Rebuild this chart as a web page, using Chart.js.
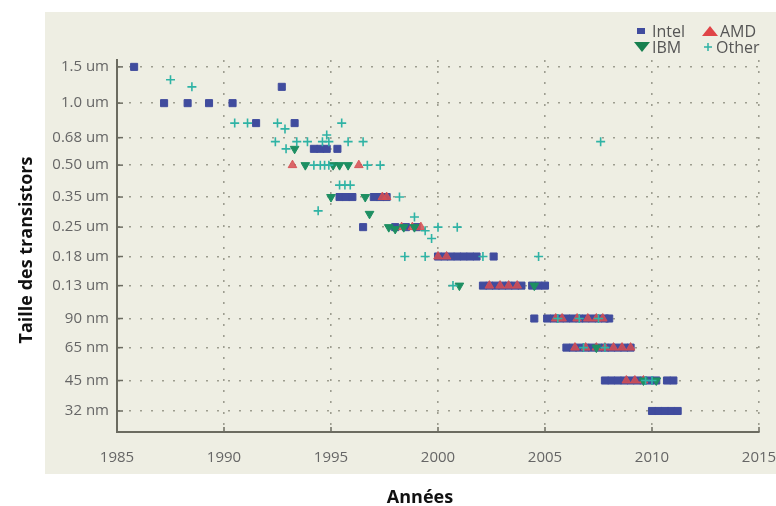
<!DOCTYPE html>
<html>
<head>
<meta charset="utf-8">
<script src="https://cdn.jsdelivr.net/npm/chart.js@4"></script>
<style>
  html, body { margin: 0; padding: 0; background: #ffffff; }
  canvas { display: block; }
</style>
</head>
<body>
<canvas id="myChart" width="776" height="506"></canvas>
<script>
// tick labels
const xTickValues = [1985, 1990, 1995, 2000, 2005, 2010, 2015];
const xTickLabels = ["1985", "1990", "1995", "2000", "2005", "2010", "2015"];
const yTickValues = [1500, 1000, 680, 500, 350, 250, 180, 130, 90, 65, 45, 32];
const yTickLabels = ["1.5 um", "1.0 um", "0.68 um", "0.50 um", "0.35 um", "0.25 um",
  "0.18 um", "0.13 um", "90 nm", "65 nm", "45 nm", "32 nm"];

// series (year, size in nm)
const intelYears = [1985.8, 1987.2, 1988.3, 1989.3, 1990.4, 1992.7, 1991.5, 1993.3,
  1994.2, 1994.5, 1994.8, 1995.3,
  1995.4, 1995.7, 1996.0, 1997.0, 1997.3, 1997.6,
  1996.5, 1998.0, 1998.5, 1999.0,
  2000.0, 2000.3, 2000.6, 2000.9, 2001.2, 2001.5, 2001.8, 2002.6,
  2002.1, 2002.4, 2002.7, 2003.0, 2003.3, 2003.6, 2003.9, 2004.4, 2004.7, 2005.0,
  2004.5, 2005.1, 2005.4, 2005.7, 2006.0, 2006.3, 2006.6, 2006.9, 2007.2, 2007.5, 2007.8, 2008.0,
  2006.0, 2006.3, 2006.6, 2006.9, 2007.2, 2007.5, 2007.8, 2008.1, 2008.4, 2008.7, 2009.0,
  2007.8, 2008.1, 2008.4, 2008.7, 2009.0, 2009.3, 2009.6, 2009.9, 2010.2, 2010.7, 2011.0,
  2010.0, 2010.3, 2010.6, 2010.9, 2011.2];
const intelSizes = [1500, 1000, 1000, 1000, 1000, 1200, 800, 800,
  600, 600, 600, 600,
  350, 350, 350, 350, 350, 350,
  250, 250, 250, 250,
  180, 180, 180, 180, 180, 180, 180, 180,
  130, 130, 130, 130, 130, 130, 130, 130, 130, 130,
  90, 90, 90, 90, 90, 90, 90, 90, 90, 90, 90, 90,
  65, 65, 65, 65, 65, 65, 65, 65, 65, 65, 65,
  45, 45, 45, 45, 45, 45, 45, 45, 45, 45, 45,
  32, 32, 32, 32, 32];

const amdYears = [1993.2, 1996.3, 1997.4, 1997.6, 1998.3, 1998.8, 1999.2, 2000.0, 2000.4,
  2002.4, 2002.9, 2003.3, 2003.7, 2005.5, 2005.8, 2006.5, 2007.0, 2007.4, 2007.7,
  2006.4, 2006.9, 2007.4, 2007.8, 2008.2, 2008.6, 2009.0, 2008.8, 2009.2, 2009.6];
const amdSizes = [500, 500, 350, 350, 250, 250, 250, 180, 180,
  130, 130, 130, 130, 90, 90, 90, 90, 90, 90,
  65, 65, 65, 65, 65, 65, 65, 45, 45, 45];

const ibmYears = [1993.3, 1993.8, 1995.1, 1995.4, 1995.8, 1995.0, 1996.6, 1996.8,
  1997.7, 1998.0, 1998.4, 1998.9, 2001.0, 2004.5, 2007.4, 2009.6, 2010.2];
const ibmSizes = [600, 500, 500, 500, 500, 350, 350, 290,
  250, 245, 250, 250, 130, 130, 65, 45, 45];

const otherYears = [1987.5, 1988.5, 1990.5, 1991.1, 1992.5, 1995.5, 1992.85,
  1992.4, 1993.4, 1993.9, 1994.6, 1994.9, 1995.8, 1996.5, 1994.8, 1992.9,
  1994.2, 1994.5, 1994.7, 1994.9, 1996.7, 1997.3, 1995.4, 1995.65, 1995.9,
  1998.2, 1994.4, 1998.9, 1999.4, 1999.7, 2000.0, 2000.9,
  1998.45, 1999.4, 2002.1, 2004.7, 2000.7, 2007.6,
  2005.6, 2006.6, 2007.5, 2006.8, 2007.8, 2009.7, 2010.0];
const otherSizes = [1300, 1200, 800, 800, 800, 800, 750,
  650, 650, 650, 650, 650, 650, 650, 700, 600,
  500, 500, 500, 500, 500, 500, 400, 400, 400,
  350, 300, 280, 240, 220, 250, 250,
  180, 180, 180, 180, 130, 650,
  90, 90, 90, 65, 65, 45, 45];

const seriesNames = ["Intel", "AMD", "IBM", "Other"];

const toPoints = (xs, ys) => xs.map((x, i) => ({ x: x, y: ys[i] }));

const panelPlugin = {
  id: "panel",
  beforeDraw(chart) {
    const ctx = chart.ctx;
    ctx.save();
    ctx.fillStyle = "#eeeee3";
    ctx.fillRect(45, 12, 731, 462);
    ctx.restore();
  },
  afterDraw(chart) {
    const ctx = chart.ctx;
    const xs = chart.scales.x;
    const ys = chart.scales.y;
    const area = chart.chartArea;
    ctx.save();
    // inward tick marks
    ctx.strokeStyle = "#6b6b60";
    ctx.lineWidth = 1.5;
    ys.ticks.forEach((t) => {
      const py = ys.getPixelForValue(t.value);
      ctx.beginPath();
      ctx.moveTo(area.left, py);
      ctx.lineTo(area.left + 6, py);
      ctx.stroke();
    });
    xs.ticks.forEach((t) => {
      const px = xs.getPixelForValue(t.value);
      ctx.beginPath();
      ctx.moveTo(px, area.bottom);
      ctx.lineTo(px, area.bottom - 5);
      ctx.stroke();
    });

    // axis titles
    ctx.fillStyle = "#111111";
    ctx.font = "bold 18px 'Open Sans'";
    ctx.textAlign = "center";
    ctx.textBaseline = "alphabetic";
    ctx.fillText("Années", 420, 503);
    ctx.translate(32, 250);
    ctx.rotate(-Math.PI / 2);
    ctx.fillText("Taille des transistors", 0, 0);
    ctx.restore();

    // legend, 2 x 2
    ctx.save();
    const sets = chart.data.datasets;
    const spots = [
      { sx: 641, sy: 31, tx: 652 },
      { sx: 710, sy: 31, tx: 720 },
      { sx: 642, sy: 47, tx: 652 },
      { sx: 708, sy: 47, tx: 716 },
    ];
    ctx.font = "16px 'Open Sans'";
    ctx.textBaseline = "middle";
    ctx.textAlign = "left";
    sets.forEach((ds, i) => {
      const s = spots[i];
      ctx.fillStyle = ds.legendColor;
      ctx.strokeStyle = ds.legendColor;
      if (ds.label === "Intel") {
        ctx.fillRect(s.sx - 4, s.sy - 3, 8, 6);
      } else if (ds.label === "AMD") {
        ctx.beginPath();
        ctx.moveTo(s.sx, s.sy - 5);
        ctx.lineTo(s.sx + 8, s.sy + 5);
        ctx.lineTo(s.sx - 8, s.sy + 5);
        ctx.closePath();
        ctx.fill();
      } else if (ds.label === "IBM") {
        ctx.beginPath();
        ctx.moveTo(s.sx - 8, s.sy - 5);
        ctx.lineTo(s.sx + 8, s.sy - 5);
        ctx.lineTo(s.sx, s.sy + 5);
        ctx.closePath();
        ctx.fill();
      } else {
        ctx.lineWidth = 1.5;
        ctx.beginPath();
        ctx.moveTo(s.sx - 4, s.sy);
        ctx.lineTo(s.sx + 4, s.sy);
        ctx.moveTo(s.sx, s.sy - 4);
        ctx.lineTo(s.sx, s.sy + 4);
        ctx.stroke();
      }
      ctx.fillStyle = "#555555";
      ctx.fillText(ds.label, s.tx, s.sy + 1);
    });
    ctx.restore();
  },
};

const ctx = document.getElementById("myChart").getContext("2d");

new Chart(ctx, {
  type: "scatter",
  data: {
    datasets: [
      {
        label: seriesNames[0],
        data: toPoints(intelYears, intelSizes),
        pointStyle: "rect",
        pointRadius: 5,
        backgroundColor: "#404c9e",
        borderColor: "#404c9e",
        borderWidth: 1,
        legendColor: "#404c9e",
        order: 4,
      },
      {
        label: seriesNames[1],
        data: toPoints(amdYears, amdSizes),
        pointStyle: "triangle",
        pointRadius: 5,
        backgroundColor: "rgba(214, 78, 82, 0.85)",
        borderColor: "rgba(214, 78, 82, 0.85)",
        borderWidth: 1,
        legendColor: "#e04548",
        order: 3,
      },
      {
        label: seriesNames[2],
        data: toPoints(ibmYears, ibmSizes),
        pointStyle: "triangle",
        rotation: 180,
        pointRadius: 5,
        backgroundColor: "#1d8f62",
        borderColor: "#1d8f62",
        borderWidth: 1,
        legendColor: "#17804f",
        order: 2,
      },
      {
        label: seriesNames[3],
        data: toPoints(otherYears, otherSizes),
        pointStyle: "cross",
        pointRadius: 4.5,
        backgroundColor: "#2fb3a5",
        borderColor: "#2fb3a5",
        borderWidth: 1.6,
        legendColor: "#2fb3a5",
        order: 1,
      },
    ],
  },
  options: {
    responsive: false,
    animation: false,
    devicePixelRatio: 1,
    layout: { padding: { top: 60, right: 17, left: 0, bottom: 0 } },
    plugins: {
      legend: { display: false },
      tooltip: { enabled: false },
    },
    scales: {
      x: {
        type: "linear",
        min: 1985,
        max: 2015,
        afterFit: (scale) => {
          scale.height = 74;
          scale.paddingLeft = 0;
          scale.paddingRight = 0;
        },
        afterBuildTicks: (scale) => {
          scale.ticks = xTickValues.map((v) => ({ value: v }));
        },
        ticks: {
          callback: (value, index) => xTickLabels[index],
          color: "#666666",
          font: { family: "'Open Sans'", size: 15 },
          padding: 17,
          maxRotation: 0,
        },
        grid: { color: "#9d9d90", lineWidth: 1.6, drawTicks: false },
        border: { display: true, color: "#6b6b60", width: 2, dash: [2, 9] },
      },
      y: {
        type: "logarithmic",
        min: 25.3,
        max: 1620,
        afterFit: (scale) => { scale.width = 117; },
        afterBuildTicks: (scale) => {
          scale.ticks = yTickValues.map((v) => ({ value: v }));
        },
        ticks: {
          callback: (value, index) => yTickLabels[index],
          color: "#666666",
          font: { family: "'Open Sans'", size: 15 },
          padding: 8,
        },
        grid: { color: "#9d9d90", lineWidth: 1.6, drawTicks: false },
        border: { display: true, color: "#6b6b60", width: 2, dash: [2, 9] },
      },
    },
  },
  plugins: [panelPlugin],
});
</script>
</body>
</html>
